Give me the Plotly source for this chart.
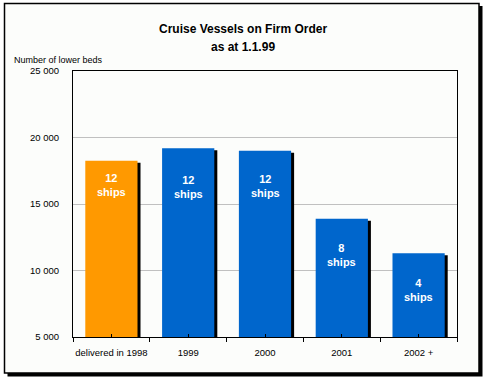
import plotly.graph_objects as go

categories = ["delivered in 1998", "1999", "2000", "2001", "2002 +"]
beds = [18250, 19200, 19000, 13900, 11300]
ships = [12, 12, 12, 8, 4]
label_y = [16450, 16300, 16350, 11200, 8550]
colors = ["#ff9900", "#0066cc", "#0066cc", "#0066cc", "#0066cc"]
ytick_vals = [5000, 10000, 15000, 20000, 25000]
ytick_text = ["5 000", "10 000", "15 000", "20 000", "25 000"]

W, H = 487, 381
L, R, T, B = 73, 30, 71, 44
pw, ph = W - L - R, H - T - B

def px_x(x):
    return (x - L) / pw

def px_y(y):
    return (H - B - y) / ph

bw = 0.68
shift = 3 / (pw / 5)
drop = 2 / ph * 20000
xs = list(range(len(categories)))

fig = go.Figure()
fig.add_trace(go.Bar(
    x=xs, y=[v - drop for v in beds], width=bw, offset=-bw / 2 + shift,
    marker=dict(color="black", line=dict(width=0)), hoverinfo="skip", showlegend=False,
))
fig.add_trace(go.Bar(
    x=xs, y=beds, width=bw, offset=-bw / 2,
    marker=dict(color=colors, line=dict(width=0)), showlegend=False,
))

for i, (n, ly) in enumerate(zip(ships, label_y)):
    fig.add_annotation(x=i, y=ly, xref="x", yref="y", text=f"<b>{n}<br>ships</b>",
                       showarrow=False,
                       font=dict(family="Liberation Sans", size=11, color="white"))

# frame with shadow
bg = "#fcfdfb"
fig.add_shape(type="rect", xref="paper", yref="paper", layer="below",
              x0=px_x(7.5), x1=px_x(482.5), y0=px_y(6), y1=px_y(376.5),
              fillcolor="black", line=dict(width=0))
fig.add_shape(type="rect", xref="paper", yref="paper", layer="below",
              x0=px_x(4.5), x1=px_x(479), y0=px_y(3.5), y1=px_y(373),
              fillcolor=bg, line=dict(color="black", width=1.5))

fig.add_annotation(text="<b>Cruise Vessels on Firm Order</b>", xref="paper", yref="paper",
                   x=px_x(243), y=px_y(20), showarrow=False,
                   font=dict(family="Liberation Sans", size=12, color="black"))
fig.add_annotation(text="<b>as at 1.1.99</b>", xref="paper", yref="paper",
                   x=px_x(243), y=px_y(38), showarrow=False,
                   font=dict(family="Liberation Sans", size=12, color="black"))
fig.add_annotation(text="Number of lower beds", xref="paper", yref="paper",
                   x=px_x(12), y=px_y(53), xanchor="left", showarrow=False,
                   font=dict(family="Liberation Sans", size=9, color="black"))

fig.update_layout(
    width=W, height=H,
    margin=dict(l=L, r=R, t=T, b=B, pad=0, autoexpand=False),
    paper_bgcolor="white", plot_bgcolor=bg,
    barmode="overlay",
    font=dict(family="Liberation Sans", size=9, color="black"),
    xaxis=dict(tickmode="array", tickvals=[x - 0.5 for x in xs] + [len(xs) - 0.5],
               ticktext=[""] * (len(xs) + 1),
               ticks="outside", ticklen=4, tickcolor="black",
               showline=True, linecolor="black", linewidth=1,
               mirror=True, showgrid=False, range=[-0.5, len(xs) - 0.5],
               automargin=False, zeroline=False),
    xaxis2=dict(overlaying="x", matches="x", anchor="y", side="bottom",
                tickmode="array", tickvals=xs, ticktext=categories, tickangle=0,
                ticks="inside", ticklen=3, tickcolor="black", showline=False,
                showgrid=False, zeroline=False, automargin=False,
                ticklabelstandoff=8, tickfont=dict(size=9.5)),
    yaxis=dict(range=[5000, 25000], tickvals=ytick_vals, ticktext=ytick_text,
               showgrid=True, gridcolor="#c0c0c0", gridwidth=1,
               showline=True, linecolor="black", linewidth=1, mirror=True,
               ticks="outside", ticklen=11, tickcolor="rgba(0,0,0,0)",
               zeroline=False, tickfont=dict(size=9.5), automargin=False),
)
# invisible trace to activate xaxis2
fig.add_trace(go.Scatter(x=[0], y=[5000], xaxis="x2", mode="markers",
                         marker=dict(opacity=0), hoverinfo="skip", showlegend=False))

fig.write_html("out.html", config={"displayModeBar": False},
               post_script="document.body.style.margin='0';")
